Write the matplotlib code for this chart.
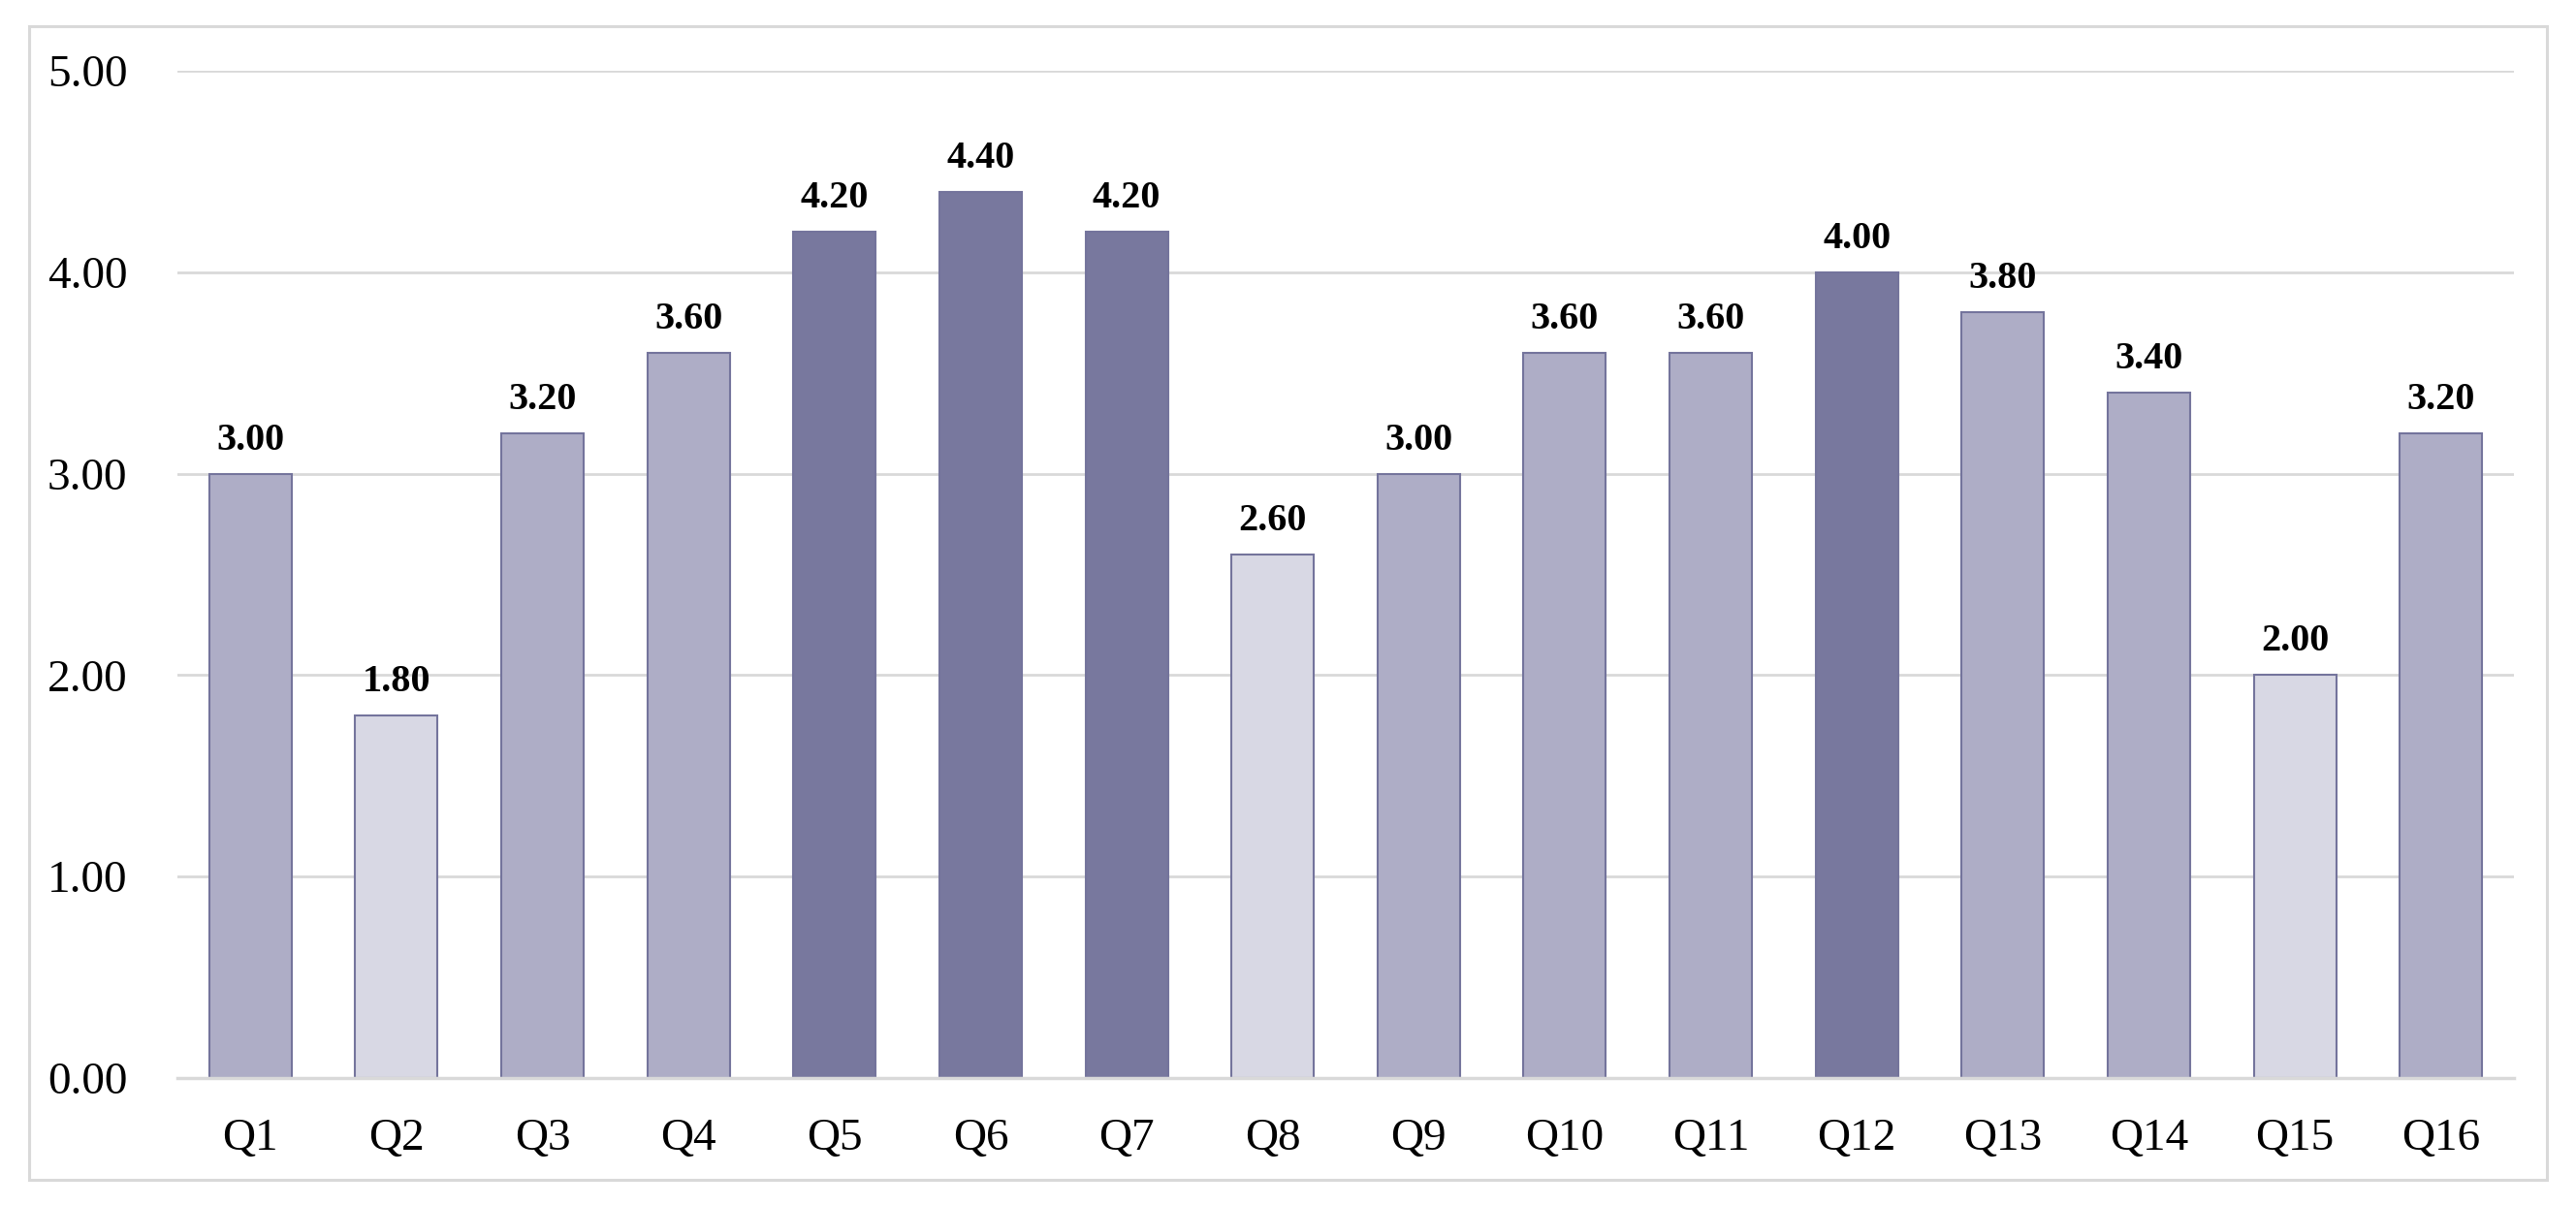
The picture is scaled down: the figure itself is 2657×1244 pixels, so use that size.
import matplotlib.pyplot as plt
from matplotlib.patches import Rectangle

categories = ['Q1', 'Q2', 'Q3', 'Q4', 'Q5', 'Q6', 'Q7', 'Q8',
              'Q9', 'Q10', 'Q11', 'Q12', 'Q13', 'Q14', 'Q15', 'Q16']
scores = [3.00, 1.80, 3.20, 3.60, 4.20, 4.40, 4.20, 2.60,
          3.00, 3.60, 3.60, 4.00, 3.80, 3.40, 2.00, 3.20]
# shade level of each bar: 0 light, 1 medium, 2 dark
shade = [1, 0, 1, 1, 2, 2, 2, 0, 1, 1, 1, 2, 1, 1, 0, 1]
yticks = [0, 1, 2, 3, 4, 5]

palette = {0: '#d8d8e4', 1: '#aeadc6', 2: '#78789e'}
grid_color = '#d9d9d9'

plt.rcParams['font.family'] = ['Liberation Serif', 'DejaVu Serif']

fig = plt.figure(figsize=(26.57, 12.44), dpi=100)
ax = fig.add_axes([183 / 2657, 1 - 1112 / 1244, (2593 - 183) / 2657, (1112 - 73) / 1244])

x = range(len(categories))
bars = ax.bar(x, scores, width=0.565, color=[palette[s] for s in shade],
              edgecolor='#74749c', linewidth=1.5, zorder=3)

for b, v in zip(bars, scores):
    ax.annotate(f'{v:.2f}', (b.get_x() + b.get_width() / 2, v),
                xytext=(0, 18), textcoords='offset points',
                ha='center', va='baseline', fontsize=29, fontweight='bold', zorder=4)

ax.set_xlim(-0.5, len(categories) - 0.5)
ax.set_ylim(0, 5)
ax.set_yticks(yticks)
ax.set_yticklabels([f'{t:.2f}' for t in yticks])
ax.set_xticks(list(x))
ax.set_xticklabels(categories)
ax.tick_params(axis='both', length=0, labelsize=34)
ax.tick_params(axis='y', pad=37)
ax.tick_params(axis='x', pad=30)

ax.yaxis.grid(True, color=grid_color, linewidth=2, zorder=0)
for side in ['top', 'right', 'left']:
    ax.spines[side].set_visible(False)
ax.spines['bottom'].set_color(grid_color)
ax.spines['bottom'].set_linewidth(2.5)
ax.spines['bottom'].set_zorder(5)

fig.patches.append(Rectangle((30 / 2657, 1 - 1217 / 1244), (2627 - 30) / 2657, (1217 - 27) / 1244,
                             transform=fig.transFigure, fill=False,
                             edgecolor=grid_color, linewidth=2.2))

fig.savefig('out.png', dpi=100)
